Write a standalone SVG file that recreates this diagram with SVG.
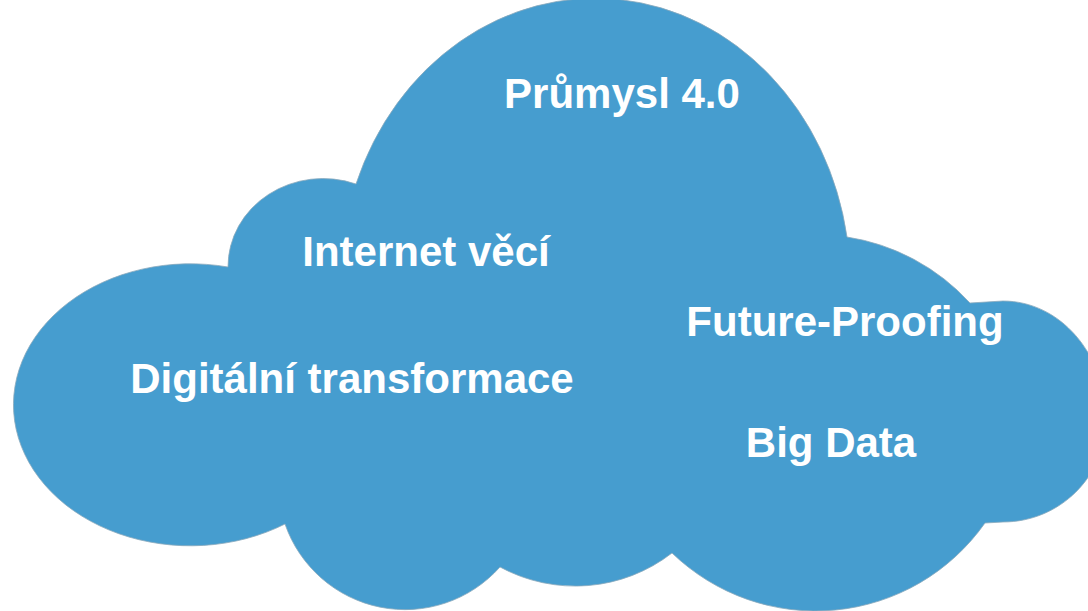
<svg xmlns="http://www.w3.org/2000/svg" width="1088" height="611" viewBox="0 0 1088 611">
  <style>
    .cloud { fill: #469DCF; stroke: #8aa9bd; stroke-width: 0.8; }
    .label { fill: #FFFFFF; font-family: "Liberation Sans", Arial, sans-serif; font-weight: bold; font-size: 42px; text-anchor: middle; }
  </style>
  <rect x="0" y="0" width="1088" height="611" fill="#FFFFFF"/>
  <g id="cloud">
    <path class="cloud" d="M 228,267
      A 95 88 0 0 1 356,184
      A 255 284 0 0 1 847,237
      A 210 210 0 0 1 970,303
      L 1003,301
      C 1060,301 1106,354 1106,420
      C 1106,476 1060,522 1003,522
      L 985,523
      A 207 207 0 0 1 672,553
      A 158 158 0 0 1 500,567
      A 127 127 0 0 1 285,524
      A 177 141 0 1 1 228,267 Z"/>
  </g>
  <g id="prumysl">
    <text class="label" x="622" y="108">Průmysl 4.0</text>
  </g>
  <g id="internet-veci">
    <text class="label" x="426" y="266">Internet věcí</text>
  </g>
  <g id="future-proofing">
    <text class="label" x="845" y="336">Future-Proofing</text>
  </g>
  <g id="digitalni-transformace">
    <text class="label" x="352" y="393">Digitální transformace</text>
  </g>
  <g id="big-data">
    <text class="label" x="831" y="457">Big Data</text>
  </g>
</svg>
